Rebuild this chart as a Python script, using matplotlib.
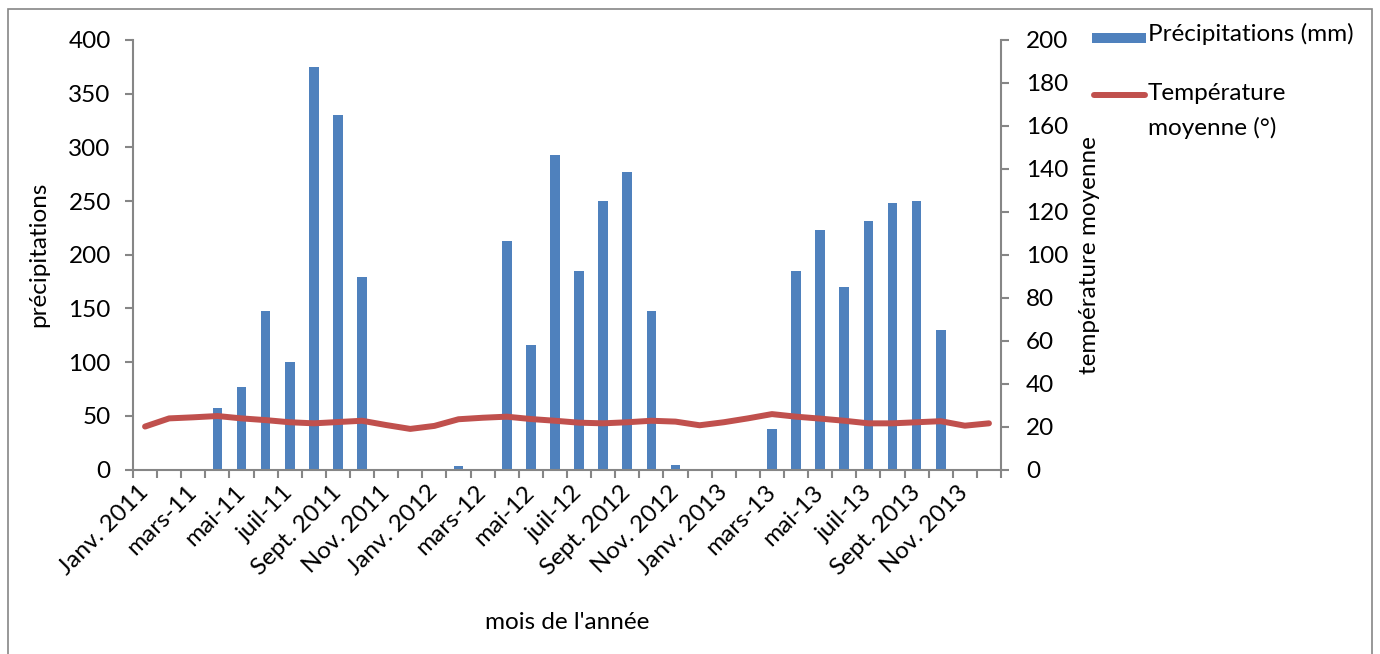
import matplotlib
matplotlib.use("Agg")
import matplotlib.pyplot as plt
from matplotlib.patches import Rectangle
from matplotlib.lines import Line2D
import numpy as np

plt.rcParams['font.family'] = ['Lato', 'DejaVu Sans']

months = ["Janv. 2011", "févr.-11", "mars-11", "avr.-11", "mai-11", "juin-11",
          "juil-11", "août-11", "Sept. 2011", "oct.-11", "Nov. 2011", "déc.-11",
          "Janv. 2012", "févr.-12", "mars-12", "avr.-12", "mai-12", "juin-12",
          "juil-12", "août-12", "Sept. 2012", "oct.-12", "Nov. 2012", "déc.-12",
          "Janv. 2013", "févr.-13", "mars-13", "avr.-13", "mai-13", "juin-13",
          "juil-13", "août-13", "Sept. 2013", "oct.-13", "Nov. 2013", "déc.-13"]

precipitations = [0, 0, 0, 57, 77, 148, 100, 375, 330, 179, 0, 0,
                  0, 3, 0, 213, 116, 293, 185, 250, 277, 148, 4, 0,
                  0, 0, 38, 185, 223, 170, 231, 248, 250, 130, 0, 0]

temperature = [20, 23.8, 24.3, 24.9, 23.8, 23, 22, 21.5, 22.1, 22.7, 20.7, 18.9,
               20.3, 23.4, 24.1, 24.6, 23.5, 22.7, 21.8, 21.5, 22, 22.7, 22.3, 20.6,
               22, 23.8, 25.8, 24.6, 23.7, 22.7, 21.5, 21.5, 22, 22.5, 20.4, 21.5]

shown_labels = {0, 2, 4, 6, 8, 10, 12, 14, 16, 18, 20, 22, 24, 26, 28, 30, 32, 34}

legend_labels = ["Précipitations (mm)", "Température", "moyenne (°)"]

BLUE = "#4F81BD"
RED = "#C0504D"
GRAY = "#868686"
FS = 17.5
W, H = 1380, 654

fig = plt.figure(figsize=(13.8, 6.54), dpi=100)
fig.patches.append(Rectangle((8/W, -0.05), (1372-8)/W, 1 - 9/H + 0.05,
                             transform=fig.transFigure, fill=False,
                             edgecolor=GRAY, linewidth=1.2))

ax = fig.add_axes([133/W, 1 - 469.5/H, (1001-133)/W, (469.5-40)/H])
ax2 = ax.twinx()

x = np.arange(len(months))
ax.bar(x, precipitations, width=0.4, color=BLUE, zorder=2)
ax2.plot(x, temperature, color=RED, linewidth=4.3, solid_capstyle='round', zorder=3)

ax.set_xlim(-0.5, len(months) - 0.5)
ax.set_ylim(0, 400)
ax2.set_ylim(0, 200)
ax.set_yticks(np.arange(0, 401, 50))
ax2.set_yticks(np.arange(0, 201, 20))

for a in (ax, ax2):
    a.spines['top'].set_visible(False)
    for s in a.spines.values():
        s.set_color(GRAY)
        s.set_linewidth(1.5)
ax.spines['right'].set_visible(False)
ax2.spines['left'].set_visible(False)
ax2.spines['bottom'].set_visible(False)

ax.tick_params(axis='y', direction='out', length=6, width=1.5, color=GRAY,
               labelsize=FS, pad=10)
ax2.tick_params(axis='y', direction='out', length=6, width=1.5, color=GRAY,
                labelsize=FS, pad=12)

# x ticks at category boundaries, labels at centers
ax.set_xticks(np.arange(-0.5, len(months), 1.0))
ax.set_xticklabels([])
ax.tick_params(axis='x', which='major', direction='out', length=6, width=1.5, color=GRAY)
ax.set_xticks(x, minor=True)
ax.set_xticklabels([m if i in shown_labels else "" for i, m in enumerate(months)],
                   minor=True, rotation=45, ha='right', va='center',
                   rotation_mode='anchor', fontsize=FS)
ax.tick_params(axis='x', which='minor', length=0, pad=14)

ax.set_ylabel("précipitations", fontsize=FS, labelpad=14)
ax2.set_ylabel("température moyenne", fontsize=FS, labelpad=8)
ax.set_xlabel("mois de l'année", fontsize=FS, labelpad=24)

# legend (drawn in figure pixel coordinates, top-down)
def fy(py):
    return 1 - py / H

fig.patches.append(Rectangle((1092/W, fy(42.5)), 54/W, 9.5/H,
                             transform=fig.transFigure, facecolor=BLUE,
                             edgecolor='none'))
fig.text(1148/W, fy(34), legend_labels[0], fontsize=FS, va='center', ha='left')
fig.lines.append(Line2D([1094/W, 1145/W], [fy(95), fy(95)], transform=fig.transFigure,
                        color=RED, linewidth=4.3, solid_capstyle='round'))
fig.text(1148/W, fy(93), legend_labels[1], fontsize=FS, va='center', ha='left')
fig.text(1148/W, fy(128), legend_labels[2], fontsize=FS, va='center', ha='left')

fig.savefig("out.png", dpi=100)
